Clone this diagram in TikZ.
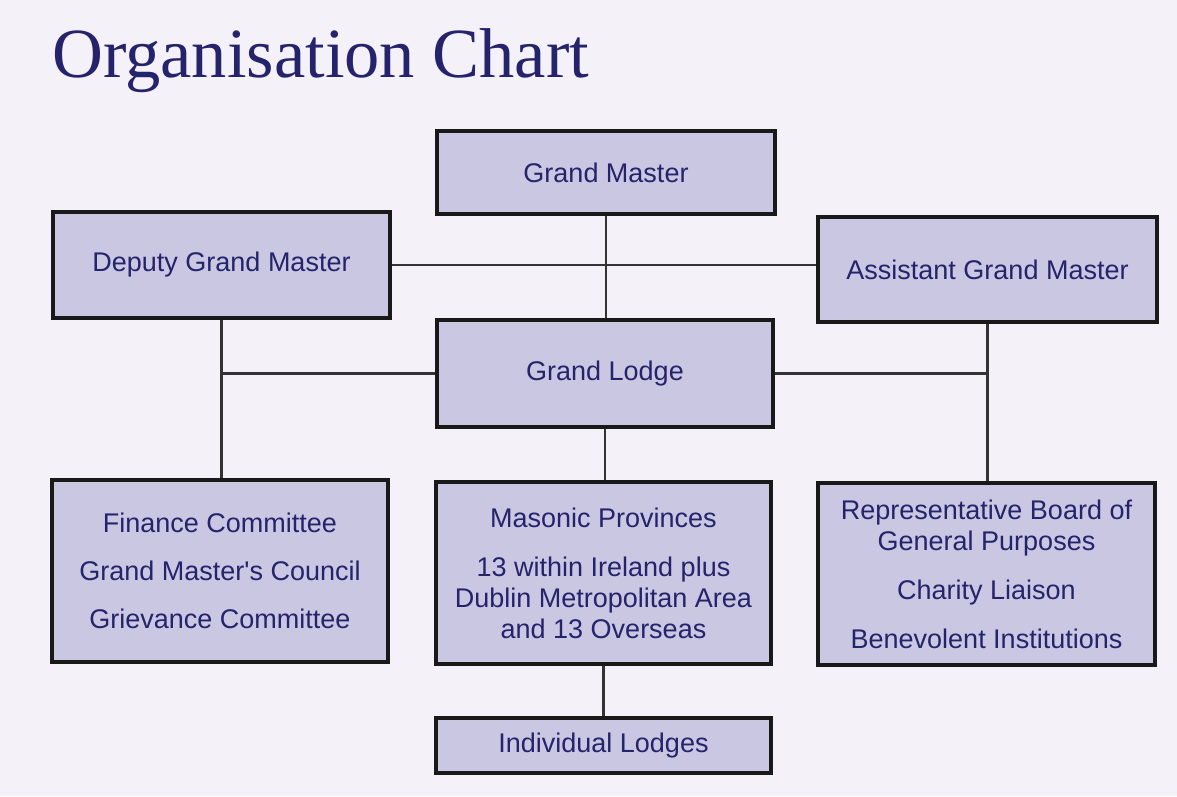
\documentclass[tikz,border=0pt]{standalone}
\usepackage{fontspec}
\setmainfont{Liberation Serif}
\newfontfamily\boxfont{Liberation Sans}
\definecolor{bgcol}{HTML}{F4F2F8}
\definecolor{boxfill}{HTML}{C9C7E1}
\definecolor{inkcol}{HTML}{25236B}
\definecolor{linecol}{HTML}{333333}
\begin{document}
\begin{tikzpicture}[x=1pt,y=-1pt,
  orgbox/.style={draw=black!90, line width=3.4pt, fill=boxfill, text=inkcol,
    font=\boxfont\fontsize{27}{31}\selectfont, align=center, inner sep=0pt},
  link/.style={draw=linecol, line width=2.2pt}]
\fill[bgcol] (0,0) rectangle (1177,796);
\useasboundingbox (0,0) rectangle (1177,796);
\node[anchor=base west, inner sep=0pt, text=inkcol, font=\fontsize{70.5}{80}\selectfont] (title) at (52,77) {Organisation Chart};
\node[orgbox, minimum width=338pt, minimum height=83pt] (gm) at (606,172.5) {Grand Master};
\node[orgbox, minimum width=337pt, minimum height=106pt] (dgm) at (221.5,265) {Deputy Grand Master};
\node[orgbox, minimum width=339pt, minimum height=105pt] (agm) at (987.5,269.5) {Assistant Grand Master};
\node[orgbox, minimum width=336pt, minimum height=107pt] (gl) at (605,373.5) {Grand Lodge};
\node[orgbox, minimum width=336pt, minimum height=182pt] (fc) at (220,571) {Finance Committee\\[17pt]Grand Master's Council\\[17pt]Grievance Committee};
\node[orgbox, minimum width=335pt, minimum height=182pt] (mp) at (603.5,573) {Masonic Provinces\\[18pt]13 within Ireland plus\\Dublin Metropolitan Area\\and 13 Overseas};
\node[orgbox, minimum width=337pt, minimum height=182pt] (rb) at (986.5,574) {Representative Board of\\General Purposes\\[18pt]Charity Liaison\\[18pt]Benevolent Institutions};
\node[orgbox, minimum width=335pt, minimum height=55pt] (il) at (603.5,745.5) {Individual Lodges};
\draw[link] (gm.south) -- (gm.south |- gl.north);
\draw[link] (gl.south) -- (gl.south |- mp.north);
\draw[link] (mp.south) -- (mp.south |- il.north);
\draw[link] (dgm.east) -- (dgm.east -| agm.west);
\draw[link] (dgm.south) -- (dgm.south |- fc.north);
\draw[link] (gl.west) -- (gl.west -| dgm.south);
\draw[link] (agm.south) -- (agm.south |- rb.north);
\draw[link] (gl.east) -- (gl.east -| agm.south);
\end{tikzpicture}
\end{document}
